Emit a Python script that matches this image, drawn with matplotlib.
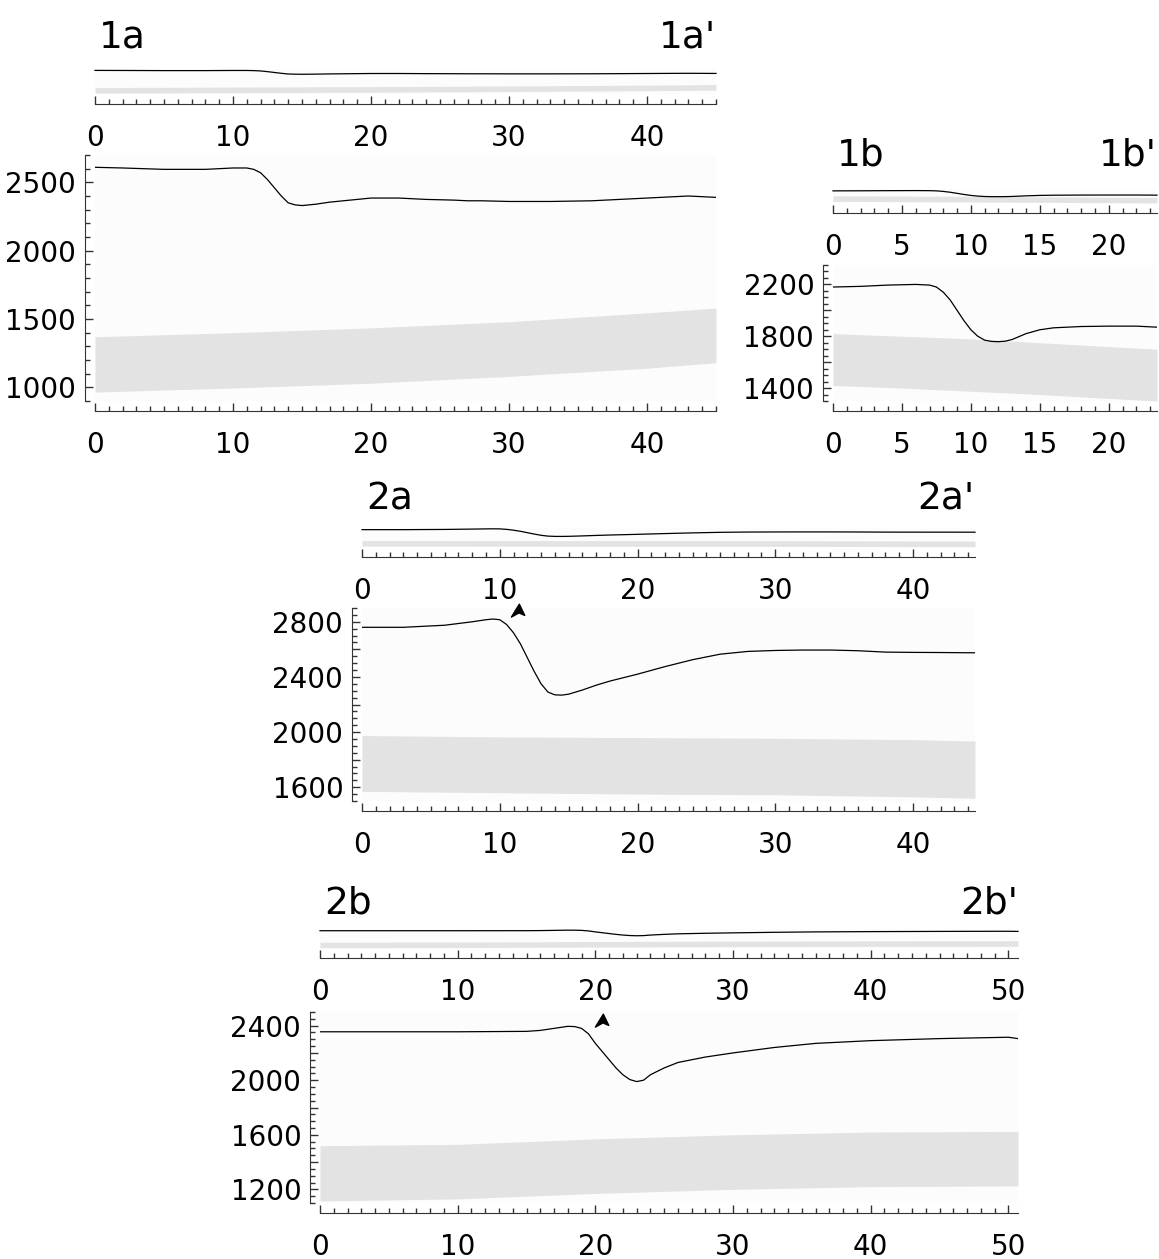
import numpy as np
import matplotlib
matplotlib.use("Agg")
import matplotlib.pyplot as plt
from matplotlib.ticker import MultipleLocator, FuncFormatter
from matplotlib.path import Path

# ---- profile 1a ----
p1a_x = [0, 2, 5, 8, 10, 11, 11.5, 12, 12.5, 13, 13.5, 14, 14.5, 15, 16, 17, 18, 20, 22,
         24, 26, 27, 28, 30, 33, 36, 39, 42, 43, 45]
p1a_y = [2610, 2605, 2595, 2595, 2605, 2605, 2595, 2570, 2520, 2460, 2400, 2350, 2335,
         2330, 2340, 2355, 2365, 2385, 2385, 2375, 2370, 2365, 2365, 2360, 2360, 2365,
         2380, 2395, 2400, 2390]
b1a_x = [0, 10, 20, 30, 40, 45]
b1a_top = [1370, 1400, 1435, 1480, 1545, 1580]
b1a_bot = [965, 995, 1030, 1080, 1140, 1180]

# ---- profile 1b ----
p1b_x = [0, 2, 4, 6, 7, 7.5, 8, 8.5, 9, 9.5, 10, 10.5, 11, 11.5, 12, 12.5, 13, 14, 15,
         16, 18, 20, 22, 23.5]
p1b_y = [2180, 2185, 2195, 2200, 2195, 2180, 2140, 2080, 2000, 1920, 1850, 1800, 1770,
         1760, 1758, 1762, 1775, 1820, 1850, 1865, 1875, 1878, 1878, 1870]
b1b_x = [0, 5, 10, 15, 20, 23.5]
b1b_top = [1820, 1800, 1780, 1750, 1720, 1700]
b1b_bot = [1420, 1400, 1375, 1350, 1320, 1300]

# ---- profile 2a ----
p2a_x = [0, 3, 6, 8, 9, 9.5, 10, 10.5, 11, 11.5, 12, 12.5, 13, 13.5, 14, 14.5, 15, 16,
         17, 18, 20, 22, 24, 26, 28, 30, 32, 34, 36, 38, 40, 42, 44.5]
p2a_y = [2760, 2760, 2775, 2800, 2815, 2820, 2815, 2780, 2720, 2640, 2540, 2440, 2350,
         2290, 2270, 2268, 2275, 2305, 2340, 2370, 2420, 2475, 2525, 2565, 2585, 2592,
         2595, 2595, 2590, 2580, 2578, 2577, 2575]
b2a_x = [0, 10, 20, 30, 40, 44.5]
b2a_top = [1975, 1965, 1960, 1955, 1945, 1935]
b2a_bot = [1570, 1560, 1550, 1545, 1530, 1520]

# ---- profile 2b ----
p2b_x = [0, 5, 10, 15, 16, 17, 18, 18.5, 19, 19.5, 20, 20.5, 21, 21.5, 22, 22.5, 23,
         23.5, 24, 25, 26, 28, 30, 33, 36, 40, 45, 50, 50.7]
p2b_y = [2355, 2355, 2355, 2358, 2365, 2380, 2395, 2393, 2380, 2340, 2270, 2210, 2150,
         2090, 2040, 2005, 1990, 2000, 2040, 2090, 2130, 2170, 2200, 2240, 2270, 2290,
         2305, 2315, 2305]
b2b_x = [0, 10, 20, 30, 40, 50.7]
b2b_top = [1520, 1530, 1570, 1600, 1620, 1625]
b2b_bot = [1115, 1130, 1170, 1200, 1220, 1225]

W, H = 1159, 1259
fig = plt.figure(figsize=(W / 100, H / 100), dpi=100)
plt.rcParams["font.family"] = ["DejaVu Sans"]

BAND = "#e3e3e3"
BG = "#fcfcfc"
SPINE = "#333333"
TICK_FS = 20

# notched arrowhead, wider than tall, tip up
ARROW = Path([(0.1, 1.0), (0.75, -0.35), (0.05, -0.05), (-0.85, -0.55), (0.1, 1.0)],
             [Path.MOVETO, Path.LINETO, Path.LINETO, Path.LINETO, Path.CLOSEPOLY])


def px_box(x0, y0, x1, y1):
    return [x0 / W, 1 - y1 / H, (x1 - x0) / W, (y1 - y0) / H]


def style_xaxis(ax, xmajor):
    ax.spines["bottom"].set_position(("outward", 7.5))
    ax.spines["bottom"].set_color(SPINE)
    ax.xaxis.set_major_locator(MultipleLocator(xmajor))
    ax.xaxis.set_minor_locator(MultipleLocator(1))
    ax.tick_params(axis="x", which="both", direction="in", color=SPINE,
                   labelsize=TICK_FS, pad=14)
    ax.tick_params(axis="x", which="major", length=6, width=1)
    ax.tick_params(axis="x", which="minor", length=3.5, width=1)


def panel(name, x, y, bx, btop, bbot, xmax, ylim, ymajor, ystep, ybase, yminor, xmajor,
          box, ov_axis_y, title_y, arrow=None):
    x0, y0, x1, y1 = box
    # main profile
    ax = fig.add_axes(px_box(*box))
    ax.set_facecolor(BG)
    ax.fill_between(bx, bbot, btop, color=BAND, lw=0)
    ax.plot(x, y, color="black", lw=0.9)
    ax.set_xlim(0, xmax)
    ax.set_ylim(*ylim)
    for s in ["top", "right"]:
        ax.spines[s].set_visible(False)
    ax.spines["left"].set_position(("outward", 7.5))
    ax.spines["left"].set_color(SPINE)
    style_xaxis(ax, xmajor)
    ax.yaxis.set_major_locator(MultipleLocator(ymajor))
    ax.yaxis.set_minor_locator(MultipleLocator(yminor))
    ax.yaxis.set_major_formatter(
        FuncFormatter(lambda v, p: "%d" % v if round(v - ybase) % ystep == 0 else ""))
    ax.tick_params(axis="y", which="both", direction="in", color=SPINE,
                   labelsize=TICK_FS, pad=6)
    ax.tick_params(axis="y", which="major", length=6, width=1)
    ax.tick_params(axis="y", which="minor", length=3.5, width=1)
    if arrow is not None:
        ax.plot([arrow[0]], [arrow[1]], marker=ARROW, ms=12, color="black",
                clip_on=False)

    # overview at true scale
    km = (x1 - x0) / xmax
    h = (ylim[1] - ylim[0]) / 1000 * km
    ob = ov_axis_y - 10
    ov = fig.add_axes(px_box(x0, ob - h, x1, ob))
    ov.set_facecolor(BG)
    ov.fill_between(bx, bbot, btop, color=BAND, lw=0)
    ov.plot(x, y, color="black", lw=0.9, clip_on=False)
    ov.set_xlim(0, xmax)
    ov.set_ylim(*ylim)
    for s in ["top", "right", "left"]:
        ov.spines[s].set_visible(False)
    ov.set_yticks([])
    style_xaxis(ov, xmajor)

    fig.text((x0 + 4) / W, 1 - title_y / H, name, ha="left", va="center", fontsize=27)
    fig.text(x1 / W, 1 - title_y / H, name + "'", ha="right", va="center", fontsize=27)


panel("1a", p1a_x, p1a_y, b1a_x, b1a_top, b1a_bot, 45, (900, 2700), 500, 500, 0, 100, 10,
      (95, 155, 716, 401), 104, 38)
panel("1b", p1b_x, p1b_y, b1b_x, b1b_top, b1b_bot, 23.5, (1300, 2350), 200, 400, 1400, 50, 5,
      (833, 265, 1157, 401), 213, 155)
panel("2a", p2a_x, p2a_y, b2a_x, b2a_top, b2a_bot, 44.5, (1500, 2900), 200, 400, 0, 50, 10,
      (362, 608, 975, 801), 557, 500, arrow=(11.3, 2872))
panel("2b", p2b_x, p2b_y, b2b_x, b2b_top, b2b_bot, 50.7, (1100, 2500), 200, 400, 0, 50, 10,
      (320, 1012, 1018, 1203), 958, 903, arrow=(20.5, 2425))

fig.savefig("out.png", dpi=100, facecolor="white")
